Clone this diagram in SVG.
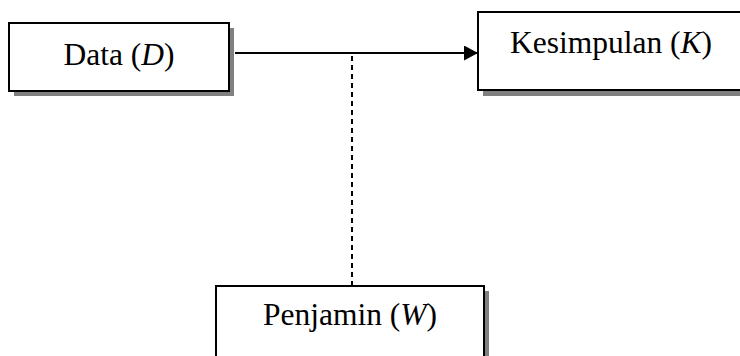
<svg xmlns="http://www.w3.org/2000/svg" width="740" height="356" viewBox="0 0 740 356">
  <style>
    .box { fill: #ffffff; stroke: #000000; stroke-width: 2; }
    .shadow { fill: #808080; stroke: none; }
    .label { font-family: "Liberation Serif", "Times New Roman", serif; font-size: 31.5px; fill: #000000; }
    .var { font-style: italic; }
    .flow { stroke: #000000; stroke-width: 2.2; fill: none; }
    .warrant { stroke: #000000; stroke-width: 2; stroke-dasharray: 5 4; fill: none; }
  </style>
  <defs>
    <marker id="arrow" viewBox="0 0 14 15" refX="14" refY="7.5" markerWidth="14" markerHeight="15" markerUnits="userSpaceOnUse" orient="auto">
      <path d="M0,0 L14,7.5 L0,15 z" fill="#000000"/>
    </marker>
  </defs>
  <rect width="740" height="356" fill="#ffffff"/>

  <g id="connectors">
    <line class="flow" x1="235" y1="53" x2="478" y2="53" marker-end="url(#arrow)"/>
    <line class="warrant" x1="352" y1="56" x2="352" y2="286"/>
  </g>

  <g id="data">
    <rect class="shadow" x="14" y="28" width="220" height="68"/>
    <rect class="box" x="9" y="23" width="220" height="68"/>
    <text class="label" x="119" y="65" text-anchor="middle">Data (<tspan class="var">D</tspan>)</text>
  </g>

  <g id="kesimpulan">
    <rect class="shadow" x="483" y="17" width="270" height="79"/>
    <rect class="box" x="478" y="12" width="270" height="78"/>
    <text class="label" x="510" y="53">Kesimpulan (<tspan class="var">K</tspan>)</text>
  </g>

  <g id="penjamin">
    <rect class="shadow" x="221" y="291" width="268" height="80"/>
    <rect class="box" x="216" y="286" width="268" height="80"/>
    <text class="label" x="350" y="325" text-anchor="middle">Penjamin (<tspan class="var">W</tspan>)</text>
  </g>
</svg>
